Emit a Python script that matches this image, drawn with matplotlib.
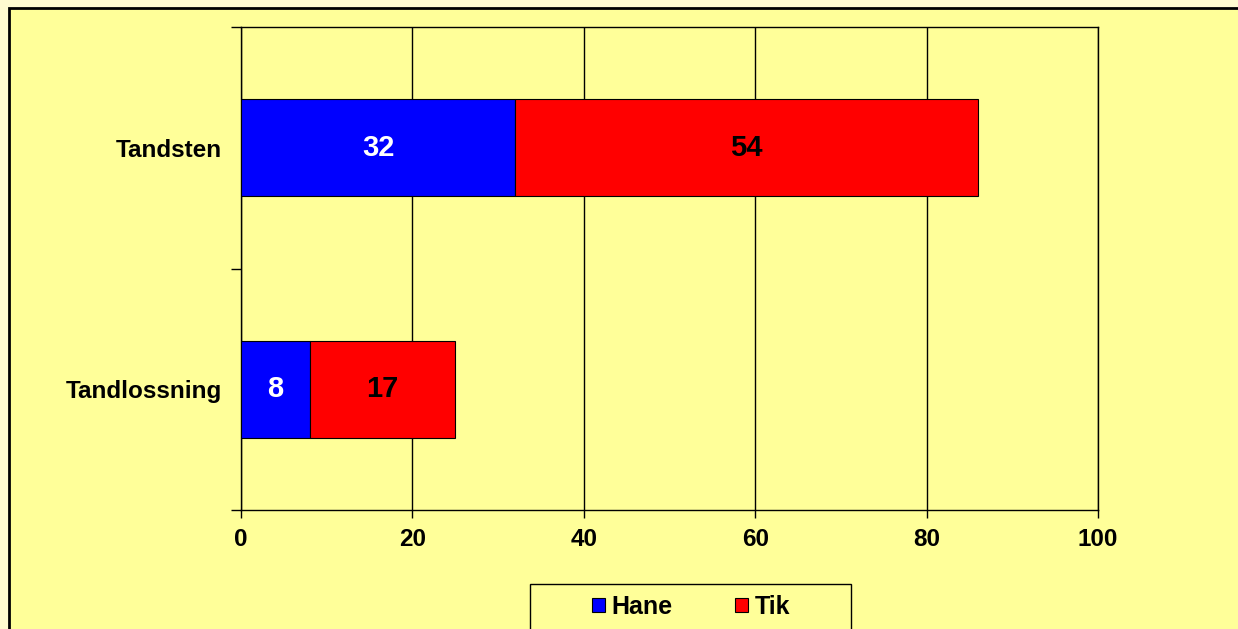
import matplotlib.pyplot as plt
from matplotlib.patches import Rectangle

categories = ["Tandlossning", "Tandsten"]
hane = [8, 32]
tik = [17, 54]
series_names = ["Hane", "Tik"]
x_ticks = [0, 20, 40, 60, 80, 100]

plt.rcParams['font.family'] = ['Liberation Sans', 'DejaVu Sans']

W, H = 1238, 629
fig = plt.figure(figsize=(W / 100, H / 100), dpi=100)
fig.patch.set_facecolor("#fffbd0")

# inner yellow frame
fig.patches.append(Rectangle((9 / W, -0.05), 1.2, 1 - 8 / H + 0.05, transform=fig.transFigure,
                             facecolor="#ffff99", edgecolor="black", linewidth=2, zorder=-10))
# legend box (runs off the bottom edge)
fig.patches.append(Rectangle((530 / W, -0.05), (851 - 530) / W, 1 - 584 / H + 0.05, transform=fig.transFigure,
                             facecolor="#ffff99", edgecolor="black", linewidth=1, zorder=-5))

ax = fig.add_axes([241 / W, 1 - 510 / H, (1098 - 241) / W, (510 - 27) / H])
ax.patch.set_alpha(0)

pos = list(range(len(categories)))
h = 0.4
b1 = ax.barh(pos, hane, height=h, color="#0000ff", edgecolor="black", linewidth=0.8, zorder=3, label=series_names[0])
b2 = ax.barh(pos, tik, left=hane, height=h, color="#ff0000", edgecolor="black", linewidth=0.8, zorder=3, label=series_names[1])

for i in pos:
    ax.text(hane[i] / 2, i, str(hane[i]), ha="center", va="center", color="white",
            fontsize=21, fontweight="bold", zorder=4)
    ax.text(hane[i] + tik[i] / 2, i, str(tik[i]), ha="center", va="center", color="black",
            fontsize=21, fontweight="bold", zorder=4)

ax.set_xlim(0, 100)
ax.set_ylim(-0.5, 1.5)
ax.set_xticks(x_ticks)
ax.set_xticklabels([str(v) for v in x_ticks], fontsize=17.5, fontweight="bold")
ax.set_yticks([-0.5, 0.5, 1.5])
ax.set_yticklabels([])
ax.set_yticks(pos, minor=True)
ax.set_yticklabels(categories, minor=True, fontsize=17.5, fontweight="bold")
ax.tick_params(axis="y", which="minor", length=0, pad=14)
ax.tick_params(axis="y", which="major", length=7, width=1, direction="out")
ax.tick_params(axis="x", length=6, width=1, direction="out", pad=7)
ax.grid(axis="x", color="black", linewidth=1, zorder=1)
for s in ax.spines.values():
    s.set_linewidth(1)
    s.set_zorder(2)

leg = fig.legend(handles=[b1, b2], labels=series_names, loc="center",
                 bbox_to_anchor=(691 / W, 1 - 607 / H), ncol=2, frameon=False,
                 prop={"size": 18, "weight": "bold"}, handlelength=0.52, handleheight=0.52,
                 handletextpad=0.25, columnspacing=2.5, borderpad=0, borderaxespad=0)

fig.savefig("out.png", dpi=100, facecolor=fig.get_facecolor())
